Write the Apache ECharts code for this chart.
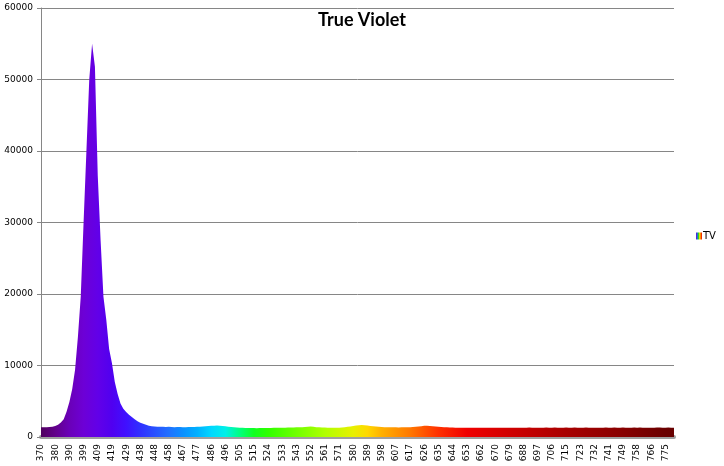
<!DOCTYPE html>
<html>
<head>
<meta charset="utf-8">
<script src="https://cdn.jsdelivr.net/npm/echarts@6/dist/echarts.min.js"></script>
<style>
html,body{margin:0;padding:0;background:#fff;}
#chart{width:724px;height:466px;}
</style>
</head>
<body>
<div id="chart"></div>
<script>
// Wavelength tick labels (nm), shown on every 5th sample
const tickLabels = [370,380,390,399,409,419,429,438,448,458,467,477,486,496,505,515,524,533,543,552,561,571,580,589,598,607,617,626,635,644,653,662,670,679,688,697,706,715,723,732,741,749,758,766,775];
const samplesPerTick = 5;
const seriesName = 'TV';
// Intensity samples (5 samples per tick interval)
const intensity = [
  // 370 - 419
  1350,1350,1380,1400,1450, 1550,1700,2040,2500,3530,
  4900,6700,9400,14000,19600, 30000,40000,50000,55000,51800,
  36500,27500,19600,16400,12300, 10300,7700,6000,4700,3950,
  // 429 - 458
  3480,3100,2800,2500,2200, 2000,1850,1700,1580,1520,
  1460,1450,1430,1420,1400,
  // 458 - 505
  1420,1400,1380,1400,1390, 1380,1370,1390,1400,1410,
  1420,1440,1470,1500,1540, 1560,1580,1600,1560,1540,
  1500,1450,1400,1360,1330,
  // 505 - 561
  1300,1280,1270,1260,1250, 1250,1240,1260,1250,1260,
  1270,1260,1280,1290,1300, 1300,1310,1320,1330,1340,
  1350,1360,1380,1400,1420, 1480,1420,1380,1350,1330,
  // 561 - 617
  1320,1310,1300,1300,1290, 1300,1320,1360,1420,1480,
  1550,1620,1660,1680,1650, 1600,1550,1500,1460,1430,
  1400,1380,1370,1360,1350, 1350,1340,1350,1360,1370,
  // 617 - 670
  1380,1400,1430,1460,1500, 1560,1580,1540,1500,1460,
  1420,1400,1380,1360,1340, 1320,1310,1300,1290,1300,
  1300,1290,1300,1310,1300, 1300,1310,1300,1290,1300,
  // 670 - 723
  1290,1300,1280,1310,1290, 1300,1280,1290,1300,1310,
  1290,1300,1320,1290,1300, 1310,1290,1300,1330,1300,
  1300,1320,1300,1290,1310, 1330,1300,1310,1340,1300,
  // 723 - 775
  1310,1300,1320,1300,1290, 1300,1310,1290,1300,1320,
  1310,1300,1330,1310,1300, 1320,1300,1290,1310,1330,
  1300,1320,1310,1300,1290, 1310,1300,1320,1330,1310,
  // 775 -
  1300,1320,1310,1300
];

const categories = intensity.map((v, j) => {
  const i = j / samplesPerTick;
  return (j % samplesPerTick === 0 && i < tickLabels.length) ? String(tickLabels[i]) : '';
});

const last = intensity.length - 1;
const spectrumColors = ['#50005f','#62008a','#6a00b8','#6d00d6','#6200e8','#5000f0','#4010ff','#3030ff','#2850ff','#2070ff',
  '#0a90ff','#00b0ff','#00d8ff','#00f0e8','#00ff80','#10ff20','#30ff00',null,'#70ff00',null,'#b0ff00',null,'#e8f000','#ffd800','#ffb000',null,'#ff7800',null,'#ff3000',null,'#f00000',null,null,'#d00000',null,null,null,'#a80000',null,null,null,'#880000',null,null,'#6a0000'];
const stops = [];
spectrumColors.forEach((c, i) => { if (c) stops.push({offset: Math.min(1, i * samplesPerTick / last), color: c}); });
stops.push({offset: 1, color: '#680000'});
const areaGrad = new echarts.graphic.LinearGradient(0, 0, 1, 0, stops);
const legendGrad = new echarts.graphic.LinearGradient(0, 0, 1, 0, [
  {offset:0,color:'#7000c0'},{offset:0.2,color:'#2060ff'},{offset:0.4,color:'#20d020'},
  {offset:0.6,color:'#f0e000'},{offset:0.8,color:'#ff7000'},{offset:1,color:'#e00000'}]);

const chart = echarts.init(document.getElementById('chart'), null, {renderer: 'canvas'});
chart.setOption({
  animation: false,
  backgroundColor: '#ffffff',
  title: {
    text: 'True Violet', left: 'center', top: 6,
    textStyle: {fontFamily: 'Lato', fontWeight: 'bold', fontSize: 18, color: '#000'}
  },
  legend: {
    data: [{name: seriesName, itemStyle: {color: legendGrad}}],
    left: 691, top: 226, icon: 'rect', itemWidth: 6, itemHeight: 7,
    textStyle: {fontFamily: 'DejaVu Sans', fontSize: 10, color: '#000', padding: [0,0,0,-4]}
  },
  grid: {left: 41, right: 50, top: 8, bottom: 29},
  xAxis: {
    type: 'category', data: categories, boundaryGap: false, offset: 2,
    axisLine: {lineStyle: {color: '#a0a0a0', width: 4}},
    axisTick: {show: false},
    axisLabel: {
      rotate: 90, margin: 5, color: '#000', fontFamily: 'DejaVu Sans', fontSize: 9,
      interval: (idx, val) => val !== ''
    },
    splitLine: {show: false}
  },
  yAxis: {
    type: 'value', min: 0, max: 60000, interval: 10000,
    axisLine: {show: true, lineStyle: {color: '#868686'}},
    axisTick: {show: true, length: 4, lineStyle: {color: '#868686'}},
    axisLabel: {margin: 8, color: '#000', fontFamily: 'DejaVu Sans', fontSize: 9,
      formatter: (v) => String(v)},
    splitLine: {lineStyle: {color: '#868686'}}
  },
  series: [{
    name: seriesName, type: 'line', data: intensity,
    showSymbol: false, symbol: 'none',
    lineStyle: {width: 0, opacity: 0},
    itemStyle: {color: legendGrad},
    areaStyle: {color: areaGrad, opacity: 1}
  }]
});
</script>
</body>
</html>
